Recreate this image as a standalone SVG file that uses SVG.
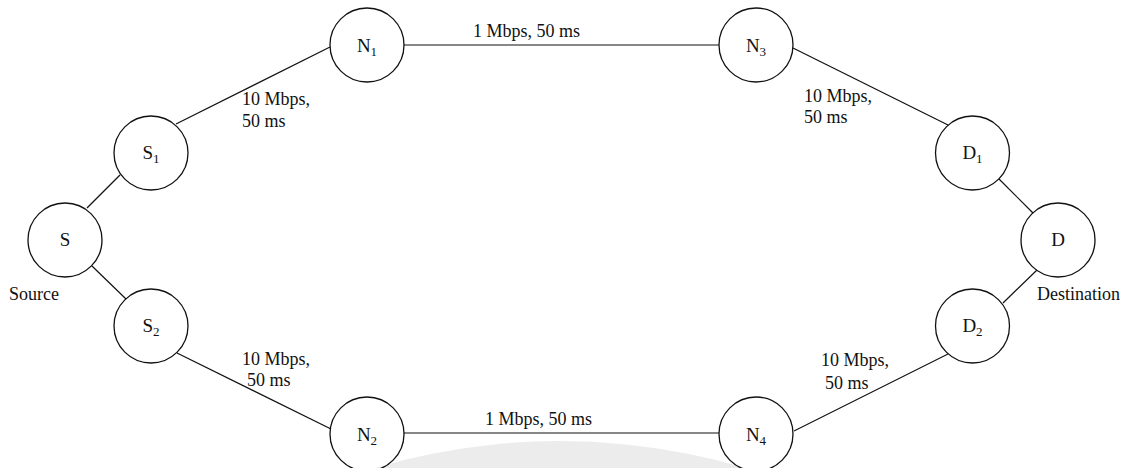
<svg xmlns="http://www.w3.org/2000/svg" width="1138" height="468" viewBox="0 0 1138 468">
  <style>
    .node { fill: none; stroke: #111; stroke-width: 1.3; }
    .link { stroke: #111; stroke-width: 1.2; fill: none; }
    .name { font-family: "Liberation Serif", "Times New Roman", serif; font-size: 19px; fill: #111; text-anchor: middle; }
    .sub { font-size: 13px; }
    .lbl { font-family: "Liberation Serif", "Times New Roman", serif; font-size: 18px; fill: #111; }
  </style>

  <rect width="1138" height="468" fill="#ffffff"/>
  <!-- faint background band -->
  <circle cx="560" cy="1091" r="650" fill="#ececec"/>

  <g id="connectors">
    <line class="link" x1="87" y1="208" x2="120" y2="175"/>
    <line class="link" x1="92" y1="266" x2="126" y2="299"/>
    <line class="link" x1="176" y1="124" x2="330" y2="47"/>
    <line class="link" x1="177" y1="353" x2="331" y2="429"/>
    <line class="link" x1="404" y1="45" x2="719" y2="45"/>
    <line class="link" x1="404" y1="433" x2="719" y2="433"/>
    <line class="link" x1="793" y1="48" x2="948" y2="125"/>
    <line class="link" x1="794" y1="431" x2="948" y2="354"/>
    <line class="link" x1="999" y1="179" x2="1033" y2="213"/>
    <line class="link" x1="1037" y1="270" x2="1003" y2="303"/>
  </g>

  <g id="link-labels">
    <text class="lbl" x="242" y="105">10 Mbps,</text>
    <text class="lbl" x="242" y="127">50 ms</text>
    <text class="lbl" x="242" y="365">10 Mbps,</text>
    <text class="lbl" x="247" y="386">50 ms</text>
    <text class="lbl" x="804" y="102">10 Mbps,</text>
    <text class="lbl" x="804" y="123">50 ms</text>
    <text class="lbl" x="821" y="366">10 Mbps,</text>
    <text class="lbl" x="825" y="389">50 ms</text>
    <text class="lbl" x="473" y="37">1 Mbps, 50 ms</text>
    <text class="lbl" x="485" y="425">1 Mbps, 50 ms</text>
  </g>

  <g id="node-S">
    <circle class="node" cx="65" cy="240" r="37"/>
    <text class="name" x="65" y="246">S</text>
    <text class="lbl" x="9" y="300">Source</text>
  </g>
  <g id="node-S1">
    <circle class="node" cx="151" cy="153" r="37"/>
    <text class="name" x="151" y="159">S<tspan class="sub" dy="4">1</tspan></text>
  </g>
  <g id="node-S2">
    <circle class="node" cx="151" cy="326" r="37"/>
    <text class="name" x="151" y="332">S<tspan class="sub" dy="4">2</tspan></text>
  </g>
  <g id="node-N1">
    <circle class="node" cx="367" cy="45" r="37"/>
    <text class="name" x="367" y="51.5">N<tspan class="sub" dy="4">1</tspan></text>
  </g>
  <g id="node-N2">
    <circle class="node" cx="367" cy="434" r="37"/>
    <text class="name" x="367" y="440.5">N<tspan class="sub" dy="4">2</tspan></text>
  </g>
  <g id="node-N3">
    <circle class="node" cx="756" cy="45" r="37"/>
    <text class="name" x="756" y="51.5">N<tspan class="sub" dy="4">3</tspan></text>
  </g>
  <g id="node-N4">
    <circle class="node" cx="756" cy="434" r="37"/>
    <text class="name" x="756" y="440.5">N<tspan class="sub" dy="4">4</tspan></text>
  </g>
  <g id="node-D1">
    <circle class="node" cx="972.5" cy="153" r="37"/>
    <text class="name" x="972.5" y="159">D<tspan class="sub" dy="4">1</tspan></text>
  </g>
  <g id="node-D2">
    <circle class="node" cx="972.5" cy="326" r="37"/>
    <text class="name" x="972.5" y="332">D<tspan class="sub" dy="4">2</tspan></text>
  </g>
  <g id="node-D">
    <circle class="node" cx="1058" cy="240" r="37"/>
    <text class="name" x="1058" y="246">D</text>
    <text class="lbl" x="1037" y="300">Destination</text>
  </g>
</svg>
